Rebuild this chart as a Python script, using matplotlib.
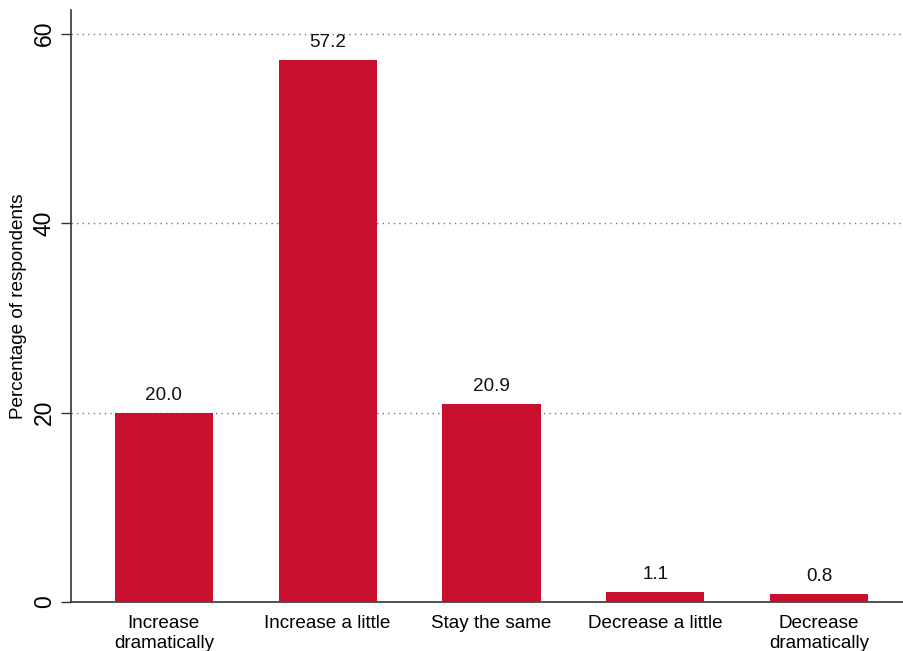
import matplotlib
matplotlib.use("Agg")
import matplotlib.pyplot as plt

plt.rcParams["font.family"] = ["Liberation Sans", "DejaVu Sans"]

categories = ["Increase\ndramatically", "Increase a little", "Stay the same",
              "Decrease a little", "Decrease\ndramatically"]
values = [20.0, 57.2, 20.9, 1.1, 0.8]
yticks = [0, 20, 40, 60]

bar_color = "#C8102E"

fig = plt.figure(figsize=(9.04, 6.51), dpi=100)
ax = fig.add_axes([0.0785, 0.0753, 0.9215, 0.9093])

x = list(range(len(categories)))
bars = ax.bar(x, values, width=0.6, color=bar_color, zorder=3)

# value labels above bars
for xi, v in zip(x, values):
    ax.annotate(f"{v:.1f}", (xi, v), xytext=(0, 6.5), textcoords="offset points",
                ha="center", va="bottom", fontsize=13.6, color="#111111")

ax.set_xlim(-0.567, 4.518)
ax.set_ylim(0, 62.5)

ax.set_yticks(yticks)
ax.set_yticklabels([str(t) for t in yticks], rotation=90, va="center", fontsize=16.5)
ax.tick_params(axis="y", length=7, width=1, color="#333333", pad=4)

ax.set_xticks(x)
ax.set_xticklabels(categories, fontsize=13.6, linespacing=1.2)
ax.tick_params(axis="x", length=0, pad=9.5)

ax.set_ylabel("Percentage of respondents", fontsize=13.6, labelpad=4)

# dotted horizontal grid
ax.grid(axis="y", linestyle=(0, (1, 3)), color="#777777", linewidth=1, zorder=0)
ax.grid(axis="x", visible=False)

for side in ["top", "right"]:
    ax.spines[side].set_visible(False)
ax.spines["left"].set_color("#333333")
ax.spines["bottom"].set_color("#333333")
ax.spines["left"].set_linewidth(1.2)
ax.spines["bottom"].set_linewidth(1.2)

fig.savefig("out.png", dpi=100)
